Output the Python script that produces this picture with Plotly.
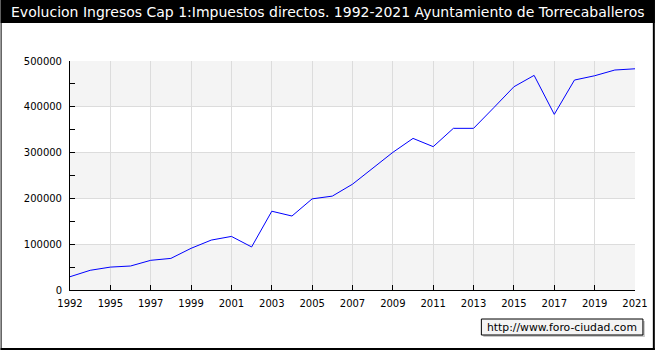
import plotly.graph_objects as go

years = ["1992", "1993", "1995", "1996", "1997", "1998", "1999", "2000", "2001", "2002",
         "2003", "2004", "2005", "2006", "2007", "2008", "2009", "2010", "2011", "2012",
         "2013", "2014", "2015", "2016", "2017", "2018", "2019", "2020", "2021"]
ingresos = [29000, 43000, 50000, 52400, 64800, 69000, 91000, 109000, 117000, 94000,
            172000, 161500, 199000, 205000, 231000, 265700, 300600, 331000, 313000, 353000,
            353000, 398000, 443800, 468600, 383500, 458400, 467800, 480300, 483000]
tick_labels = years[::2]
title_text = "Evolucion Ingresos Cap 1:Impuestos directos. 1992-2021 Ayuntamiento de Torrecaballeros"
watermark = "http://www.foro-ciudad.com"

W, H = 660, 350
L, R, T, B = 70, 20, 61, 60
PW, PH = W - L - R, H - T - B


def px(x):
    return (x - L) / PW


def py(y):
    return (H - B - y) / PH


fig = go.Figure()
fig.add_trace(go.Scatter(x=years, y=ingresos, mode="lines",
                         line=dict(color="#0000ff", width=1), hoverinfo="skip"))

shapes = []
# alternating bands
for k in range(0, 5, 2):
    shapes.append(dict(type="rect", xref="paper", yref="y", x0=0, x1=1,
                       y0=k * 100000, y1=(k + 1) * 100000,
                       fillcolor="#f4f4f4", line=dict(width=0), layer="below"))
# title bar
shapes.append(dict(type="rect", xref="paper", yref="paper", x0=px(0), x1=px(W),
                   y0=py(23), y1=py(0), fillcolor="black", line=dict(width=0)))
# border
shapes.append(dict(type="rect", xref="paper", yref="paper", x0=px(0), x1=px(1),
                   y0=py(H), y1=py(0), fillcolor="black", line=dict(width=0)))
shapes.append(dict(type="rect", xref="paper", yref="paper", x0=px(658), x1=px(W),
                   y0=py(H), y1=py(0), fillcolor="black", line=dict(width=0)))
shapes.append(dict(type="rect", xref="paper", yref="paper", x0=px(0), x1=px(W),
                   y0=py(H), y1=py(348), fillcolor="black", line=dict(width=0)))
# watermark shadow & box
shapes.append(dict(type="rect", xref="paper", yref="paper", x0=px(487), x1=px(650),
                   y0=py(337), y1=py(321), fillcolor="#c8c8c8", line=dict(width=0)))
shapes.append(dict(type="rect", xref="paper", yref="paper", x0=px(485), x1=px(648),
                   y0=py(335), y1=py(319), fillcolor="#f4f4f4",
                   line=dict(color="black", width=1)))

annotations = [
    dict(text=title_text, xref="paper", yref="paper", x=px(W / 2), y=py(12),
         showarrow=False, font=dict(family="DejaVu Sans", size=14, color="white"),
         xanchor="center", yanchor="middle"),
    dict(text=watermark, xref="paper", yref="paper", x=px(566.5), y=py(327),
         showarrow=False, font=dict(family="DejaVu Sans", size=10.8, color="black"),
         xanchor="center", yanchor="middle", xshift=0),
]

fig.update_layout(
    width=W, height=H,
    margin=dict(l=L, r=R, t=T, b=B, pad=0),
    paper_bgcolor="white", plot_bgcolor="white",
    showlegend=False,
    shapes=shapes, annotations=annotations,
    font=dict(family="DejaVu Sans", size=10, color="black"),
    xaxis=dict(type="category", range=[0, len(years) - 1], tickmode="array",
               tickvals=tick_labels, ticktext=tick_labels,
               showgrid=True, gridcolor="#dcdcdc", gridwidth=1,
               showline=True, linecolor="black", linewidth=1,
               ticks="inside", ticklen=5, tickcolor="black",
               ticklabelstandoff=4,
               tickangle=0, zeroline=False, fixedrange=True),
    yaxis=dict(range=[0, 500000], tickmode="linear", tick0=0, dtick=100000,
               tickformat="d",
               showgrid=True, gridcolor="#dcdcdc", gridwidth=1,
               showline=True, linecolor="black", linewidth=1,
               ticks="inside", ticklen=5, tickcolor="black",
               ticklabelstandoff=5,
               minor=dict(dtick=50000, ticks="inside", ticklen=5, tickcolor="black", showgrid=False),
               zeroline=False, fixedrange=True),
)

fig.write_html("out.html")
